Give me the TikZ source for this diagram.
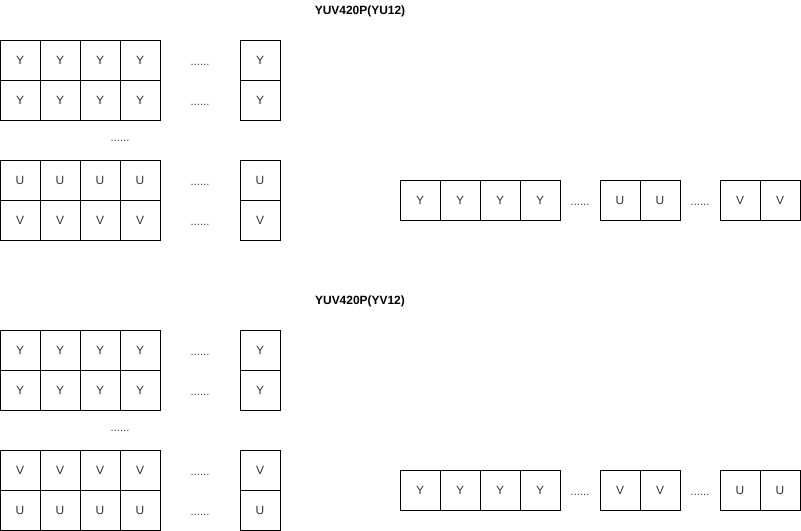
\documentclass[tikz,border=0pt]{standalone}
\usepackage{fontspec}
\setmainfont{Liberation Sans}
\usetikzlibrary{positioning}
\tikzset{
  cell/.style={draw,minimum size=1cm,inner sep=0pt,outer sep=0pt,
    font=\fontsize{8.5}{10}\selectfont,text=black!80},
  dots/.style={font=\fontsize{8}{9}\selectfont,text=black!75,inner sep=0pt},
  title/.style={font=\bfseries\fontsize{8.5}{10}\selectfont}
}
\begin{document}
\begin{tikzpicture}[x=0.025cm,y=-0.025cm,line width=0.7pt]
\useasboundingbox (0,0) rectangle (801,531);
% YU12
\node[title] (t1) at (360,11) {YUV420P(YU12)};
\foreach \r/\cy/\l in {a/60/Y, b/100/Y, c/180/U, d/220/V} {
  \foreach \i in {1,...,4} \node[cell] (\r\i) at (\i*40-20,\cy) {\l};
  \node[dots] (\r dots) at (200,\cy+5) {......};
  \node[cell] (\r last) at (260,\cy) {\l};
}
\node[dots] (mid1) at (120,141) {......};
\foreach \i/\cx/\l in {1/420/Y, 2/460/Y, 3/500/Y, 4/540/Y, 5/620/U, 6/660/U, 7/740/V, 8/780/V}
  \node[cell] (s\i) at (\cx,200) {\l};
\node[dots] (sdots1) at (580,205) {......};
\node[dots] (sdots2) at (700,205) {......};
% YV12
\node[title] (t2) at (360,301) {YUV420P(YV12)};
\foreach \r/\cy/\l in {e/350/Y, f/390/Y, g/470/V, h/510/U} {
  \foreach \i in {1,...,4} \node[cell] (\r\i) at (\i*40-20,\cy) {\l};
  \node[dots] (\r dots) at (200,\cy+5) {......};
  \node[cell] (\r last) at (260,\cy) {\l};
}
\node[dots] (mid2) at (120,431) {......};
\foreach \i/\cx/\l in {1/420/Y, 2/460/Y, 3/500/Y, 4/540/Y, 5/620/V, 6/660/V, 7/740/U, 8/780/U}
  \node[cell] (p\i) at (\cx,490) {\l};
\node[dots] (pdots1) at (580,495) {......};
\node[dots] (pdots2) at (700,495) {......};
\end{tikzpicture}
\end{document}
